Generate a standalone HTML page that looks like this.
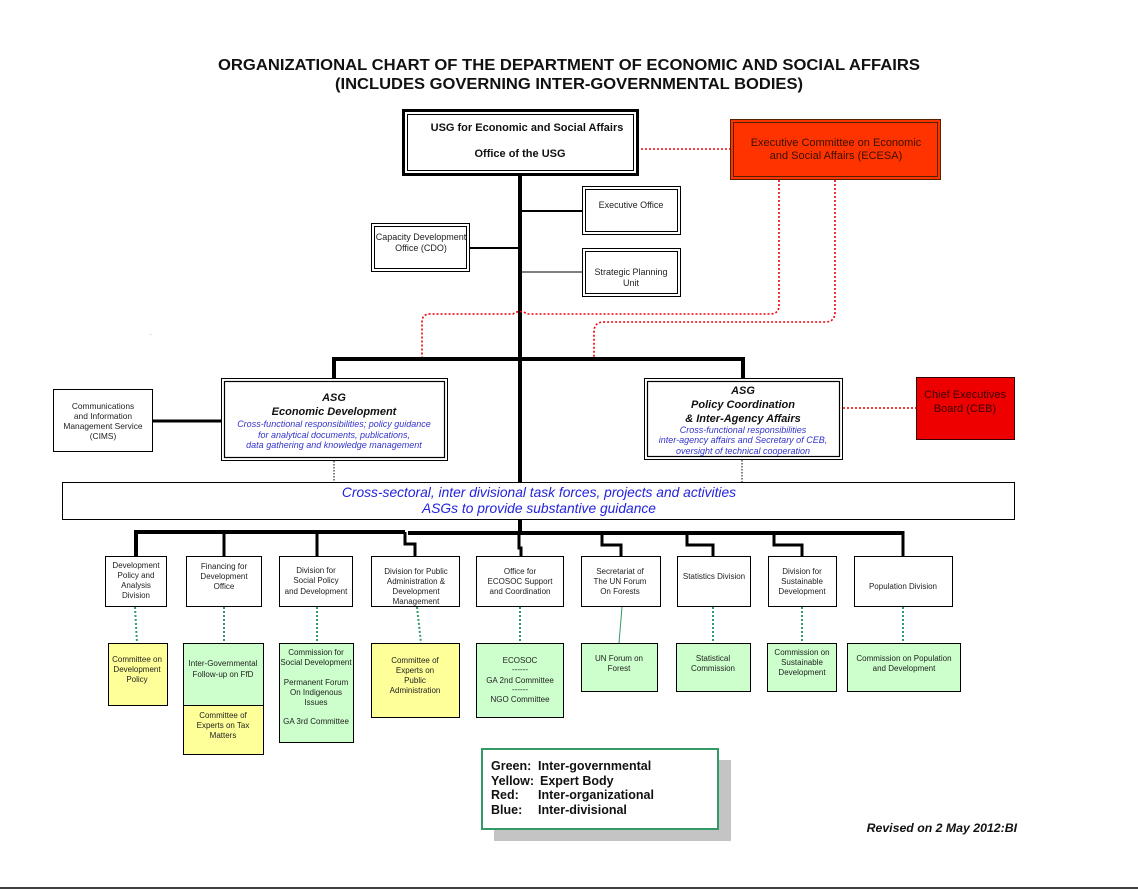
<!DOCTYPE html>
<html>
<head>
<meta charset="utf-8">
<style>
html,body{margin:0;padding:0;background:#fff;}
svg{display:block;}
text{font-family:"Liberation Sans",Arial,sans-serif;}
</style>
</head>
<body>
<svg width="1138" height="890" viewBox="0 0 1138 890" xmlns="http://www.w3.org/2000/svg">
<rect x="0" y="0" width="1138" height="890" fill="#fff"/>

<!-- Title -->
<text x="569" y="70" text-anchor="middle" font-size="15.5" font-weight="bold" fill="#111" textLength="702" lengthAdjust="spacingAndGlyphs">ORGANIZATIONAL CHART OF THE DEPARTMENT OF ECONOMIC AND SOCIAL AFFAIRS</text>
<text x="569" y="89" text-anchor="middle" font-size="15.5" font-weight="bold" fill="#111" textLength="468" lengthAdjust="spacingAndGlyphs">(INCLUDES GOVERNING INTER-GOVERNMENTAL BODIES)</text>

<!-- Main trunk -->
<line x1="520" y1="175" x2="520" y2="533" stroke="#000" stroke-width="4"/>

<!-- USG box -->
<rect x="403.5" y="110.5" width="234" height="64" fill="#fff" stroke="#000" stroke-width="3"/>
<rect x="407.5" y="114.5" width="226" height="56" fill="none" stroke="#000" stroke-width="1"/>
<text x="527" y="131" text-anchor="middle" font-size="11" font-weight="bold" fill="#111">USG for Economic and Social Affairs</text>
<text x="520" y="157" text-anchor="middle" font-size="11" font-weight="bold" fill="#111">Office of the USG</text>

<!-- red dotted USG to ECESA -->
<line x1="641" y1="149" x2="730" y2="149" stroke="#e00" stroke-width="1.6" stroke-dasharray="2,2"/>

<!-- ECESA -->
<rect x="730.5" y="119.5" width="210" height="60" fill="#ff3300" stroke="#552200" stroke-width="1"/>
<rect x="733.5" y="122.5" width="204" height="54" fill="none" stroke="#552200" stroke-width="1"/>
<text x="836" y="146" text-anchor="middle" font-size="11" fill="#3a1000">Executive Committee on Economic</text>
<text x="836" y="159" text-anchor="middle" font-size="11" fill="#3a1000">and Social Affairs (ECESA)</text>

<!-- ECESA dotted connectors -->
<path d="M779,180 V305 Q779,314 770,314 H527 Q520,309 513,314 H430 Q422,314 422,322 V358" fill="none" stroke="#e00" stroke-width="1.6" stroke-dasharray="2,2"/>
<path d="M835,180 V312 Q835,322 825,322 H604 Q594,322 594,332 V358" fill="none" stroke="#e00" stroke-width="1.6" stroke-dasharray="2,2"/>

<!-- Executive Office -->
<line x1="520" y1="211" x2="582" y2="211" stroke="#000" stroke-width="2"/>
<rect x="582.5" y="186.5" width="98" height="48" fill="#fff" stroke="#000" stroke-width="1"/>
<rect x="585.5" y="189.5" width="92" height="42" fill="none" stroke="#000" stroke-width="1"/>
<text x="631" y="208" text-anchor="middle" font-size="9" fill="#222">Executive Office</text>

<!-- Strategic Planning Unit -->
<line x1="520" y1="272" x2="582" y2="272" stroke="#000" stroke-width="1"/>
<rect x="582.5" y="248.5" width="98" height="48" fill="#fff" stroke="#000" stroke-width="1"/>
<rect x="585.5" y="251.5" width="92" height="42" fill="none" stroke="#000" stroke-width="1"/>
<text x="631" y="275" text-anchor="middle" font-size="9" fill="#222">Strategic Planning</text>
<text x="631" y="286" text-anchor="middle" font-size="9" fill="#222">Unit</text>

<!-- CDO -->
<line x1="470" y1="248" x2="520" y2="248" stroke="#000" stroke-width="2"/>
<rect x="371.5" y="223.5" width="98" height="48" fill="#fff" stroke="#000" stroke-width="1"/>
<rect x="374.5" y="226.5" width="92" height="42" fill="none" stroke="#000" stroke-width="1"/>
<text x="421" y="240" text-anchor="middle" font-size="9" fill="#222">Capacity Development</text>
<text x="421" y="251" text-anchor="middle" font-size="9" fill="#222">Office (CDO)</text>

<text x="150" y="335" font-size="6" fill="#666">.</text>

<!-- ASG bus -->
<path d="M334,379 V359 H743 V379" fill="none" stroke="#000" stroke-width="4"/>

<!-- Left ASG -->
<rect x="221.5" y="378.5" width="226" height="82" fill="#fff" stroke="#000" stroke-width="1"/>
<rect x="224.5" y="381.5" width="220" height="76" fill="none" stroke="#000" stroke-width="1.2"/>
<text x="334" y="401" text-anchor="middle" font-size="11" font-weight="bold" font-style="italic" fill="#111">ASG</text>
<text x="334" y="415" text-anchor="middle" font-size="11" font-weight="bold" font-style="italic" fill="#111">Economic Development</text>
<text x="334" y="427" text-anchor="middle" font-size="9" font-style="italic" fill="#3333cc">Cross-functional responsibilities; policy guidance</text>
<text x="334" y="438" text-anchor="middle" font-size="9" font-style="italic" fill="#3333cc">for analytical documents, publications,</text>
<text x="334" y="448" text-anchor="middle" font-size="9" font-style="italic" fill="#3333cc">data gathering and knowledge management</text>

<!-- CIMS -->
<line x1="153" y1="421" x2="221" y2="421" stroke="#000" stroke-width="3"/>
<rect x="53.5" y="389.5" width="99" height="62" fill="#fff" stroke="#000" stroke-width="1"/>
<text x="103" y="409" text-anchor="middle" font-size="8.4" fill="#222">Communications</text>
<text x="103" y="419" text-anchor="middle" font-size="8.4" fill="#222">and Information</text>
<text x="103" y="429" text-anchor="middle" font-size="8.4" fill="#222">Management Service</text>
<text x="103" y="439" text-anchor="middle" font-size="8.4" fill="#222">(CIMS)</text>

<!-- Right ASG -->
<rect x="644.5" y="378.5" width="198" height="81" fill="#fff" stroke="#000" stroke-width="1"/>
<rect x="647.5" y="381.5" width="192" height="75" fill="none" stroke="#000" stroke-width="1.2"/>
<text x="743" y="394" text-anchor="middle" font-size="11" font-weight="bold" font-style="italic" fill="#111">ASG</text>
<text x="743" y="408" text-anchor="middle" font-size="11" font-weight="bold" font-style="italic" fill="#111">Policy Coordination</text>
<text x="743" y="422" text-anchor="middle" font-size="11" font-weight="bold" font-style="italic" fill="#111">&amp; Inter-Agency Affairs</text>
<text x="743" y="433" text-anchor="middle" font-size="9" font-style="italic" fill="#3333cc">Cross-functional responsibilities</text>
<text x="743" y="443" text-anchor="middle" font-size="9" font-style="italic" fill="#3333cc">inter-agency affairs and Secretary of CEB,</text>
<text x="743" y="454" text-anchor="middle" font-size="9" font-style="italic" fill="#3333cc">oversight of technical cooperation</text>

<!-- CEB -->
<line x1="843" y1="408" x2="916" y2="408" stroke="#e00" stroke-width="1.6" stroke-dasharray="2,2"/>
<rect x="916.5" y="377.5" width="98" height="62" fill="#ee0000" stroke="#330000" stroke-width="1"/>
<text x="965" y="398" text-anchor="middle" font-size="11" fill="#3a0000">Chief Executives</text>
<text x="965" y="412" text-anchor="middle" font-size="11" fill="#3a0000">Board (CEB)</text>

<!-- dotted ASG to bar -->
<line x1="334" y1="461" x2="334" y2="482" stroke="#000" stroke-width="1" stroke-dasharray="1.5,1.5"/>
<line x1="742" y1="460" x2="742" y2="482" stroke="#000" stroke-width="1" stroke-dasharray="1.5,1.5"/>

<!-- Cross-sectoral bar -->
<rect x="62.5" y="482.5" width="952" height="37" fill="#fff" stroke="#000" stroke-width="1"/>
<text x="539" y="497" text-anchor="middle" font-size="13.8" font-style="italic" fill="#2222dd">Cross-sectoral, inter divisional task forces, projects and activities</text>
<text x="539" y="513" text-anchor="middle" font-size="13.8" font-style="italic" fill="#2222dd">ASGs to provide substantive guidance</text>

<!-- trunk below bar -->
<line x1="520" y1="519" x2="520" y2="533" stroke="#000" stroke-width="4"/>

<!-- Division bus -->
<path d="M136,556 V532 H405" fill="none" stroke="#000" stroke-width="4"/>
<line x1="408" y1="533" x2="903" y2="533" stroke="#000" stroke-width="4"/>
<line x1="224" y1="532" x2="224" y2="556" stroke="#000" stroke-width="3"/>
<line x1="317" y1="532" x2="317" y2="556" stroke="#000" stroke-width="3"/>
<path d="M405,532 V544 H415 V556" fill="none" stroke="#000" stroke-width="3"/>
<path d="M519,533 V548 H521 V556" fill="none" stroke="#000" stroke-width="3"/>
<path d="M602,533 V545 H621 V556" fill="none" stroke="#000" stroke-width="3"/>
<path d="M687,533 V545 H713 V556" fill="none" stroke="#000" stroke-width="3"/>
<path d="M774,533 V545 H802 V556" fill="none" stroke="#000" stroke-width="3"/>
<path d="M903,531 V556" fill="none" stroke="#000" stroke-width="3"/>

<!-- Division boxes -->
<g fill="#fff" stroke="#000" stroke-width="1">
<rect x="105.5" y="556.5" width="61" height="50"/>
<rect x="186.5" y="556.5" width="75" height="50"/>
<rect x="279.5" y="556.5" width="73" height="50"/>
<rect x="371.5" y="556.5" width="88" height="50"/>
<rect x="476.5" y="556.5" width="87" height="50"/>
<rect x="581.5" y="556.5" width="79" height="50"/>
<rect x="677.5" y="556.5" width="73" height="50"/>
<rect x="768.5" y="556.5" width="68" height="50"/>
<rect x="854.5" y="556.5" width="98" height="50"/>
</g>
<g font-size="8" fill="#222" text-anchor="middle">
<text x="136" y="568">Development</text>
<text x="136" y="578">Policy and</text>
<text x="136" y="588">Analysis</text>
<text x="136" y="598">Division</text>

<text x="224" y="569">Financing for</text>
<text x="224" y="579">Development</text>
<text x="224" y="589">Office</text>

<text x="316" y="573">Division for</text>
<text x="316" y="583">Social Policy</text>
<text x="316" y="594">and  Development</text>

<text x="416" y="574">Division for Public</text>
<text x="416" y="584">Administration &amp;</text>
<text x="416" y="594">Development</text>
<text x="416" y="604">Management</text>

<text x="520" y="574">Office for</text>
<text x="520" y="584">ECOSOC Support</text>
<text x="520" y="594">and Coordination</text>

<text x="620" y="574">Secretariat of</text>
<text x="620" y="584">The UN Forum</text>
<text x="620" y="594">On Forests</text>

<text x="714" y="579">Statistics Division</text>

<text x="802" y="574">Division for</text>
<text x="802" y="584">Sustainable</text>
<text x="802" y="594">Development</text>

<text x="903" y="589">Population Division</text>
</g>

<!-- green dotted connectors -->
<g stroke="#339966" stroke-width="2" stroke-dasharray="2,2" fill="none">
<line x1="135" y1="607" x2="137" y2="643"/>
<line x1="224" y1="607" x2="224" y2="643"/>
<line x1="317" y1="607" x2="317" y2="643"/>
<line x1="417" y1="607" x2="421" y2="643"/>
<line x1="520" y1="607" x2="520" y2="643"/>
<line x1="713" y1="607" x2="713" y2="643"/>
<line x1="802" y1="607" x2="802" y2="643"/>
<line x1="903" y1="607" x2="903" y2="643"/>
</g>
<line x1="622" y1="607" x2="619" y2="643" stroke="#339966" stroke-width="1"/>

<!-- Bottom boxes -->
<g stroke="#000" stroke-width="1">
<rect x="108.5" y="643.5" width="59" height="62" fill="#ffff99"/>
<rect x="183.5" y="643.5" width="80" height="62" fill="#ccffcc"/>
<rect x="183.5" y="705.5" width="80" height="49" fill="#ffff99"/>
<rect x="279.5" y="643.5" width="74" height="99" fill="#ccffcc"/>
<rect x="371.5" y="643.5" width="88" height="74" fill="#ffff99"/>
<rect x="476.5" y="643.5" width="87" height="74" fill="#ccffcc"/>
<rect x="581.5" y="643.5" width="76" height="48" fill="#ccffcc"/>
<rect x="676.5" y="643.5" width="74" height="48" fill="#ccffcc"/>
<rect x="767.5" y="643.5" width="69" height="48" fill="#ccffcc"/>
<rect x="847.5" y="643.5" width="113" height="48" fill="#ccffcc"/>
</g>
<g font-size="8" fill="#222" text-anchor="middle">
<text x="137" y="662">Committee on</text>
<text x="137" y="672">Development</text>
<text x="137" y="682">Policy</text>

<text x="223" y="666">Inter-Governmental</text>
<text x="223" y="677">Follow-up on FfD</text>
<text x="223" y="718">Committee of</text>
<text x="223" y="728">Experts on Tax</text>
<text x="223" y="738">Matters</text>

<text x="316" y="655">Commission for</text>
<text x="316" y="665">Social Development</text>
<text x="316" y="685">Permanent Forum</text>
<text x="316" y="695">On Indigenous</text>
<text x="316" y="705">Issues</text>
<text x="316" y="724">GA 3rd Committee</text>

<text x="415" y="663">Committee of</text>
<text x="415" y="673">Experts on</text>
<text x="415" y="683">Public</text>
<text x="415" y="693">Administration</text>

<text x="520" y="663">ECOSOC</text>
<text x="520" y="672">------</text>
<text x="520" y="683">GA 2nd Committee</text>
<text x="520" y="692">------</text>
<text x="520" y="702">NGO Committee</text>

<text x="619" y="661">UN Forum on</text>
<text x="619" y="671">Forest</text>

<text x="713" y="661">Statistical</text>
<text x="713" y="671">Commission</text>

<text x="802" y="655">Commission on</text>
<text x="802" y="665">Sustainable</text>
<text x="802" y="675">Development</text>

<text x="904" y="661">Commission on Population</text>
<text x="904" y="671">and Development</text>
</g>

<!-- Legend -->
<rect x="494" y="760" width="237" height="81" fill="#c4c4c4"/>
<rect x="482" y="749" width="236" height="80" fill="#fff" stroke="#339966" stroke-width="2"/>
<g font-size="12.5" font-weight="bold" fill="#111">
<text x="491" y="770">Green:</text><text x="538" y="770">Inter-governmental</text>
<text x="491" y="785">Yellow:</text><text x="540" y="785">Expert Body</text>
<text x="491" y="799">Red:</text><text x="538" y="799">Inter-organizational</text>
<text x="491" y="814">Blue:</text><text x="538" y="814">Inter-divisional</text>
</g>

<text x="1017" y="832" text-anchor="end" font-size="12.3" font-weight="bold" font-style="italic" fill="#111">Revised on 2 May 2012:BI</text>

<!-- bottom rule -->
<line x1="0" y1="888" x2="1138" y2="888" stroke="#000" stroke-width="1.5"/>
</svg>
</body>
</html>
